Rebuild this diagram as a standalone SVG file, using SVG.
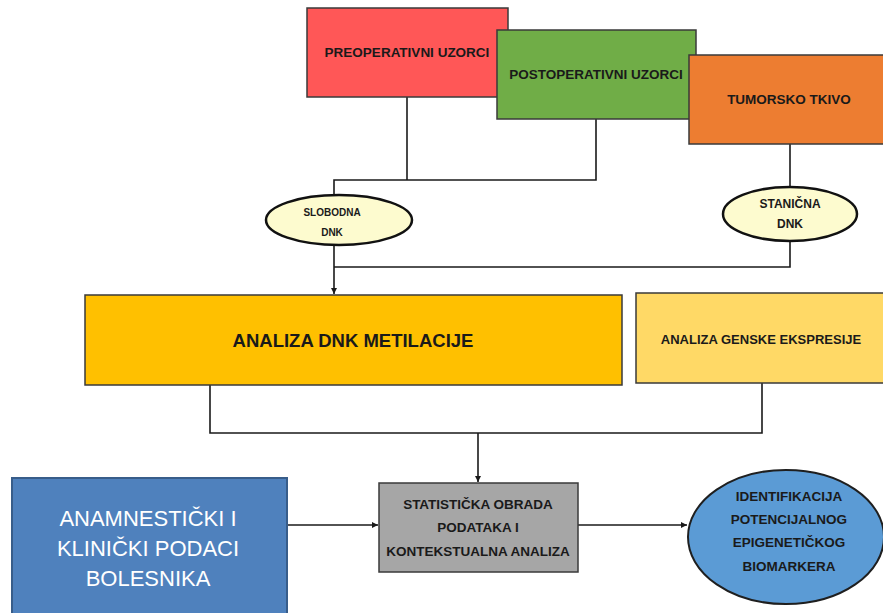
<svg xmlns="http://www.w3.org/2000/svg" width="883" height="613" viewBox="0 0 883 613">
<style>
.box{stroke:#3a3a3a;stroke-width:1.5}
.t{font-family:"Liberation Sans",Arial,sans-serif;font-weight:bold;fill:#1a1a1a;text-anchor:middle}
.w{font-family:"Liberation Sans",Arial,sans-serif;fill:#ffffff;text-anchor:middle}
.ln{fill:none;stroke:#1a1a1a;stroke-width:1.6}
</style>
<defs>
<marker id="ah" viewBox="0 0 10 10" refX="10" refY="5" markerWidth="6" markerHeight="6" orient="auto" markerUnits="userSpaceOnUse">
<path d="M0,0 L10,5 L0,10 z" fill="#1a1a1a"/>
</marker>
</defs>
<rect width="883" height="613" fill="#ffffff"/>
<g id="connectors">
<polyline class="ln" points="407,97 407,180"/>
<polyline class="ln" points="596,119 596,180 334,180 334,196"/>
<polyline class="ln" points="790,144 790,188"/>
<polyline class="ln" points="790,241 790,267 334,267"/>
<polyline class="ln" points="334,245 334,294" marker-end="url(#ah)"/>
<polyline class="ln" points="210,385 210,433 762,433 762,383"/>
<polyline class="ln" points="478,433 478,482" marker-end="url(#ah)"/>
<polyline class="ln" points="287,525 378,525" marker-end="url(#ah)"/>
<polyline class="ln" points="578,525 687,525" marker-end="url(#ah)"/>
</g>
<g id="preoperativni">
<rect class="box" x="307" y="8" width="201" height="89" fill="#FF5757"/>
<text class="t" x="407" y="57" font-size="13.5">PREOPERATIVNI UZORCI</text>
</g>
<g id="postoperativni">
<rect class="box" x="497" y="30" width="199" height="89" fill="#70AD47"/>
<text class="t" x="596" y="79" font-size="13.5">POSTOPERATIVNI UZORCI</text>
</g>
<g id="tumorsko">
<rect class="box" x="689" y="55" width="200" height="89" fill="#ED7D31"/>
<text class="t" x="789" y="104" font-size="13.5">TUMORSKO TKIVO</text>
</g>
<g id="slobodna">
<ellipse cx="339" cy="220" rx="73" ry="25" fill="#FDFBCF" stroke="#111" stroke-width="2.5"/>
<text class="t" x="332" y="216" font-size="10">SLOBODNA</text>
<text class="t" x="332" y="236" font-size="10">DNK</text>
</g>
<g id="stanicna">
<ellipse cx="790" cy="214" rx="67" ry="27" fill="#FDFBCF" stroke="#111" stroke-width="2.5"/>
<text class="t" x="790" y="208" font-size="12">STANIČNA</text>
<text class="t" x="790" y="228" font-size="12">DNK</text>
</g>
<g id="metilacija">
<rect class="box" x="85" y="295" width="537" height="90" fill="#FFC000"/>
<text class="t" x="353" y="347" font-size="18.5">ANALIZA DNK METILACIJE</text>
</g>
<g id="ekspresija">
<rect class="box" x="636" y="293" width="255" height="90" fill="#FFD966"/>
<text class="t" x="761" y="344" font-size="13">ANALIZA GENSKE EKSPRESIJE</text>
</g>
<g id="klinicki">
<rect x="12" y="478" width="275" height="145" fill="#4F81BD" stroke="#385D8A" stroke-width="2"/>
<text class="w" x="148" y="526" font-size="22">ANAMNESTIČKI I</text>
<text class="w" x="148" y="556" font-size="22">KLINIČKI PODACI</text>
<text class="w" x="148" y="586" font-size="22">BOLESNIKA</text>
</g>
<g id="statisticka">
<rect class="box" x="379" y="483" width="199" height="89" fill="#A6A6A6"/>
<text class="t" x="478" y="509" font-size="13.5">STATISTIČKA OBRADA</text>
<text class="t" x="478" y="532" font-size="13.5">PODATAKA I</text>
<text class="t" x="478" y="556" font-size="13.5">KONTEKSTUALNA ANALIZA</text>
</g>
<g id="biomarker">
<ellipse cx="786" cy="537" rx="98" ry="67" fill="#5B9BD5" stroke="#1f1f1f" stroke-width="2"/>
<text class="t" x="789" y="501" font-size="13.5">IDENTIFIKACIJA</text>
<text class="t" x="789" y="524" font-size="13.5">POTENCIJALNOG</text>
<text class="t" x="789" y="547" font-size="13.5">EPIGENETIČKOG</text>
<text class="t" x="789" y="571" font-size="13.5">BIOMARKERA</text>
</g>
</svg>
